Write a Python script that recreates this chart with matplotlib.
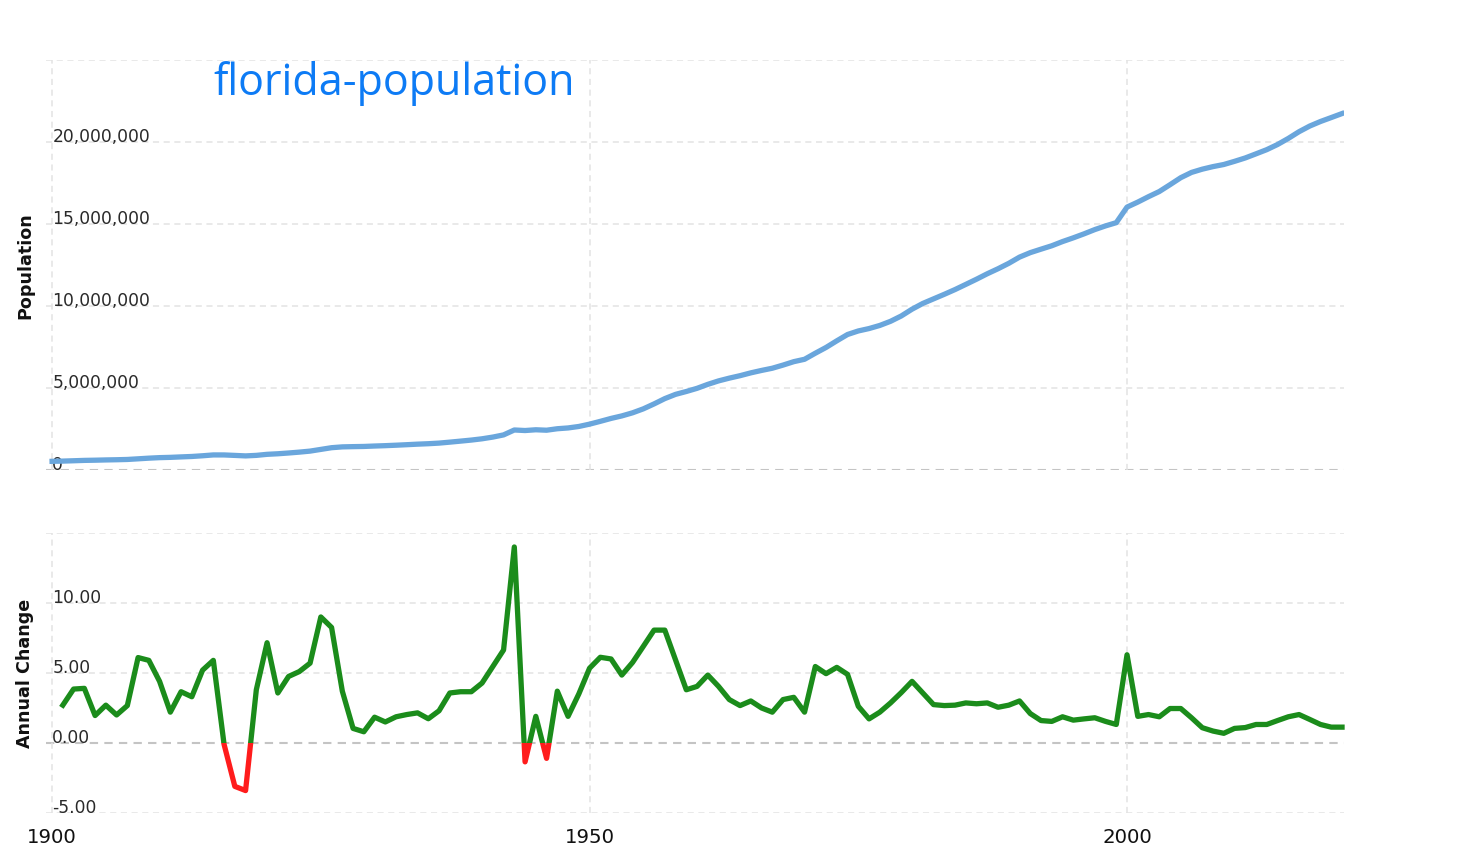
import matplotlib
matplotlib.use('Agg')
import matplotlib.pyplot as plt
import matplotlib.ticker as mtick
from matplotlib.patches import Rectangle
import numpy as np

# Florida population (millions), 1900-2020
pop_years = list(range(1900, 2021))
pop_millions = [
    0.530, 0.544, 0.565, 0.587, 0.599, 0.615, 0.627, 0.644, 0.683, 0.723,
    0.755, 0.772, 0.800, 0.826, 0.869, 0.920, 0.919, 0.891, 0.861, 0.893,
    0.957, 0.991, 1.038, 1.091, 1.153, 1.257, 1.361, 1.411, 1.426, 1.437,
    1.463, 1.485, 1.513, 1.544, 1.577, 1.604, 1.641, 1.700, 1.762, 1.826,
    1.904, 2.008, 2.141, 2.441, 2.408, 2.454, 2.427, 2.517, 2.565, 2.655,
    2.797, 2.968, 3.146, 3.299, 3.488, 3.729, 4.030, 4.354, 4.613, 4.788,
    4.981, 5.223, 5.434, 5.602, 5.752, 5.924, 6.072, 6.206, 6.398, 6.607,
    6.752, 7.121, 7.473, 7.877, 8.263, 8.479, 8.625, 8.815, 9.067, 9.393,
    9.806, 10.156, 10.435, 10.713, 11.003, 11.317, 11.634, 11.967, 12.272, 12.603,
    12.981, 13.254, 13.466, 13.673, 13.929, 14.156, 14.399, 14.659, 14.884, 15.081,
    16.031, 16.335, 16.667, 16.979, 17.396, 17.824, 18.145, 18.343, 18.499, 18.627,
    18.820, 19.027, 19.278, 19.533, 19.845, 20.216, 20.627, 20.973, 21.250, 21.490,
    21.733,
]

# Annual change (%), 1901-2020
chg_years = list(range(1901, 2021))
annual_change = [
    2.70, 3.85, 3.90, 1.96, 2.70, 2.00, 2.67, 6.10, 5.90, 4.40,
    2.20, 3.66, 3.30, 5.20, 5.90, -0.10, -3.10, -3.40, 3.80, 7.16,
    3.57, 4.75, 5.10, 5.70, 9.00, 8.25, 3.70, 1.04, 0.80, 1.84,
    1.50, 1.87, 2.03, 2.15, 1.73, 2.30, 3.57, 3.66, 3.66, 4.28,
    5.46, 6.64, 14.00, -1.35, 1.90, -1.10, 3.70, 1.90, 3.50, 5.34,
    6.12, 6.00, 4.85, 5.75, 6.90, 8.06, 8.06, 5.93, 3.80, 4.04,
    4.85, 4.04, 3.10, 2.67, 3.00, 2.50, 2.20, 3.10, 3.26, 2.20,
    5.46, 4.95, 5.40, 4.90, 2.62, 1.72, 2.20, 2.86, 3.60, 4.40,
    3.57, 2.74, 2.67, 2.70, 2.86, 2.80, 2.86, 2.55, 2.70, 3.00,
    2.10, 1.60, 1.54, 1.87, 1.63, 1.72, 1.80, 1.54, 1.32, 6.30,
    1.90, 2.03, 1.87, 2.46, 2.46, 1.80, 1.09, 0.85, 0.69, 1.04,
    1.10, 1.32, 1.32, 1.60, 1.87, 2.03, 1.68, 1.32, 1.13, 1.13,
]

x_ticks = [1900, 1950, 2000]
pop_ticks = [0, 5e6, 10e6, 15e6, 20e6, 25e6]
chg_ticks = [-5, 0, 5, 10, 15]

title_color = '#0d7bf5'
pop_color = '#6aa6dc'
pos_color = '#1b8c1b'
neg_color = '#ff1c1c'
grid_color = '#e3e3e3'
zero_color = '#c4c4c4'
label_color = '#2a2a2a'

fig = plt.figure(figsize=(14.67, 8.68), dpi=100)
ax1 = fig.add_axes([0.0314, 0.4585, 0.8848, 0.4724])
ax2 = fig.add_axes([0.0314, 0.0634, 0.8848, 0.3226])

XMIN, XMAX = 1899.44, 2020.19


def style_axis(ax, ticks):
    ax.set_xlim(XMIN, XMAX)
    for s in ax.spines.values():
        s.set_visible(False)
    ax.set_xticks(x_ticks)
    ax.set_yticks(ticks)
    ax.set_ylim(ticks[0], ticks[-1])
    ax.tick_params(axis='both', length=0)
    ax.tick_params(axis='y', pad=-4.5, labelsize=12.3, labelcolor=label_color)
    for t in ticks:
        ax.axhline(t, color=zero_color if t == 0 else grid_color,
                   linestyle=(0, (4, 3)), linewidth=1.5 if t == 0 else 1.1,
                   zorder=1)
    for t in x_ticks:
        ax.axvline(t, color=grid_color, linestyle=(0, (4, 3)), linewidth=1.1,
                   zorder=1)
    for lab in ax.get_yticklabels():
        lab.set_horizontalalignment('left')
        lab.set_verticalalignment('baseline')


# Top: population
style_axis(ax1, pop_ticks)
ax1.yaxis.set_major_formatter(mtick.FuncFormatter(
    lambda v, p: '' if v >= 25e6 else '{:,.0f}'.format(v)))
ax1.set_xticklabels([])
ax1.plot(pop_years, np.array(pop_millions) * 1e6, color=pop_color,
         linewidth=3.8, solid_joinstyle='round', zorder=3)
ax1.text(0.1287, 0.943, 'florida-population', transform=ax1.transAxes,
         fontsize=31, color=title_color, family='Open Sans',
         ha='left', va='center')

# Bottom: annual change
style_axis(ax2, chg_ticks)
ax2.yaxis.set_major_formatter(mtick.FuncFormatter(
    lambda v, p: '' if v >= 15 else '{:.2f}'.format(v)))
ax2.tick_params(axis='x', pad=11, labelsize=14.2, labelcolor='#111111')

pos_line, = ax2.plot(chg_years, annual_change, color=pos_color, linewidth=3.8,
                     solid_joinstyle='round', zorder=3)
neg_line, = ax2.plot(chg_years, annual_change, color=neg_color, linewidth=3.8,
                     solid_joinstyle='round', zorder=3)
pos_line.set_clip_path(Rectangle((1800, 0), 400, 100, transform=ax2.transData))
neg_line.set_clip_path(Rectangle((1800, -100), 400, 100, transform=ax2.transData))

fig.text(0.017, (868 - 266) / 868, 'Population', rotation=90, fontsize=12.6,
         fontweight='bold', ha='center', va='center', color='#111111')
fig.text(0.017, (868 - 673) / 868, 'Annual Change', rotation=90, fontsize=12.6,
         fontweight='bold', ha='center', va='center', color='#111111')

fig.savefig('out.png', dpi=100)
